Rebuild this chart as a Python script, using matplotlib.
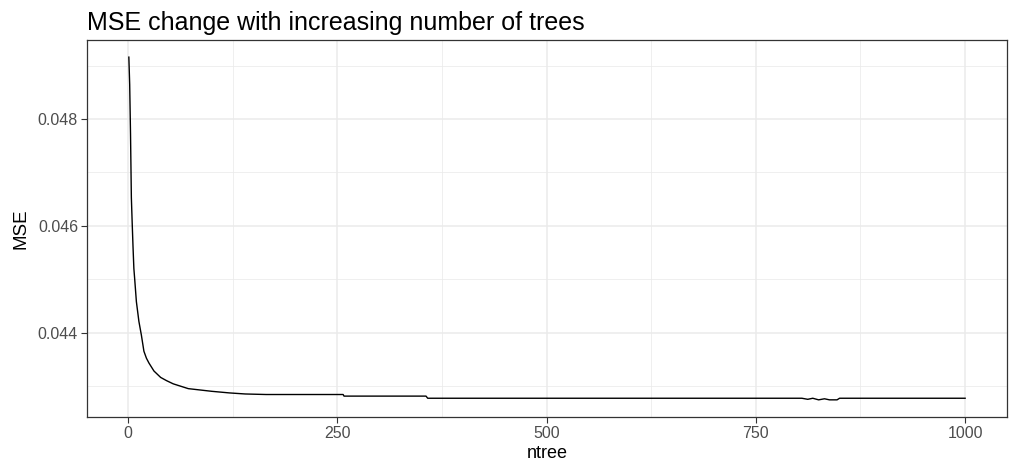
import matplotlib.pyplot as plt
from matplotlib.ticker import MultipleLocator

# values
ntree = [1, 2, 3, 4, 5, 6, 7, 8, 10, 13, 16, 19, 22, 25, 31, 39, 46, 54, 72,
         100, 121, 140, 165, 257, 258, 356, 358, 805, 812, 818, 825, 832, 838,
         847, 850, 1000]
mse = [0.04916, 0.04865, 0.04772, 0.04653, 0.04605, 0.04560, 0.04520, 0.04500,
       0.04458, 0.04421, 0.04395, 0.04365, 0.04352, 0.04343, 0.04328, 0.04316,
       0.04310, 0.04304, 0.04295, 0.04290, 0.04287, 0.04285, 0.04284, 0.04284,
       0.04281, 0.04281, 0.04277, 0.04277, 0.04275, 0.04277, 0.04274, 0.04276,
       0.04274, 0.04274, 0.04277, 0.04277]

x_ticks = [0, 250, 500, 750, 1000]
y_ticks = [0.044, 0.046, 0.048]
y_labels = ["0.044", "0.046", "0.048"]

plt.rcParams['font.family'] = ['Liberation Sans', 'DejaVu Sans']

fig = plt.figure(figsize=(10.12, 4.7), dpi=100)
ax = fig.add_axes([0.086, 0.1128, 0.909, 0.8021])

ax.plot(ntree, mse, color="black", lw=1.0, zorder=3)

# ggplot-style 5% expansion
xr = max(ntree) - min(ntree)
yr = max(mse) - min(mse)
ax.set_xlim(min(ntree) - 0.05 * xr, max(ntree) + 0.05 * xr)
ax.set_ylim(min(mse) - 0.05 * yr, max(mse) + 0.05 * yr)

ax.set_xticks(x_ticks)
ax.set_yticks(y_ticks)
ax.set_yticklabels(y_labels)
ax.xaxis.set_minor_locator(MultipleLocator(125))
ax.yaxis.set_minor_locator(MultipleLocator(0.001))
ax.grid(which="major", color="#EBEBEB", lw=1.1)
ax.grid(which="minor", color="#EBEBEB", lw=0.55)
ax.set_axisbelow(True)
ax.tick_params(which="minor", length=0)
ax.tick_params(which="major", length=4, width=0.8, color="#333333",
               labelcolor="#4D4D4D", labelsize=11.5, pad=2.5)

for s in ax.spines.values():
    s.set_color("#333333")
    s.set_linewidth(0.9)

ax.set_xlabel("ntree", fontsize=13, labelpad=3)
ax.set_ylabel("MSE", fontsize=13.5, labelpad=6)
ax.set_title("MSE change with increasing number of trees", fontsize=18,
             loc="left", pad=7)

fig.savefig("out.png", dpi=100)
